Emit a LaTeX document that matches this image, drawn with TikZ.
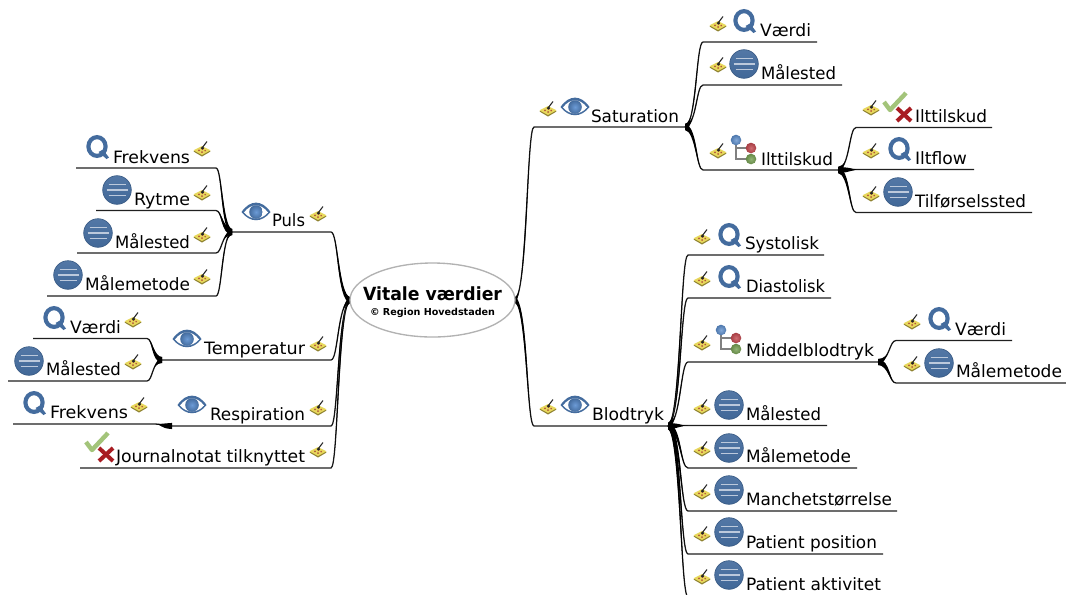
\documentclass[tikz,border=0pt]{standalone}
\usepackage{fontspec}
\usepackage{graphicx}
\setmainfont{DejaVu Sans}
\usetikzlibrary{calc,shapes.geometric}
\definecolor{iconblue}{HTML}{446C9E}
\definecolor{iconlight}{HTML}{BCC9DC}
\definecolor{linkcol}{HTML}{202020}
\definecolor{padyellow}{HTML}{E8D85C}
\definecolor{padedge}{HTML}{8F8230}
\definecolor{padred}{HTML}{B4553A}
\definecolor{checkgreen}{HTML}{A3C47A}
\definecolor{crossred}{HTML}{A81C22}
\definecolor{irisblue}{HTML}{6C9BD6}
\definecolor{ballblue}{HTML}{5A8CCB}
\definecolor{ballred}{HTML}{C4484F}
\definecolor{ballgreen}{HTML}{76A052}
\newlength\pxu
\setlength\pxu{0.75pt}
\tikzset{
  x=0.75pt,y=-0.75pt,
  txt/.style={anchor=base west,inner sep=0pt,outer sep=0pt,font=\fontsize{12.75pt}{15pt}\selectfont,text=black},
  link/.style={draw=linkcol,line width=0.95pt,line join=round},
  taper/.style={fill=black,draw=none},
  center node/.style={ellipse,draw=black!30,line width=1pt,fill=white,minimum width=165\pxu,minimum height=74\pxu,inner sep=0pt},
  brush/.pic={
    \fill[padedge] (-8.5,1.5) -- (0,6.5) -- (8.5,1.5) -- (0,-2.5) -- cycle;
    \fill[padyellow] (-8.5,0.3) -- (0,5) -- (8.5,0.3) -- (0,-4) -- cycle;
    \fill[padred] (-3,0.3) circle (1) (0.5,-1) circle (1) (0,2) circle (1) (3.2,0.6) circle (0.9);
    \draw[black!85,line width=0.8pt] (0,-2) -- (5,-8.5);
    \fill[black!85] (-1.5,-2) -- (1.3,-3.5) -- (2,-1.5) -- (0.2,-0.5) -- cycle;
  },
  qicon/.pic={
    \draw[iconblue,line width=3.1pt] (0,-1.5) ellipse (8.6 and 9.4);
    \fill[iconblue] (1.5,4) -- (6,1.5) -- (12,9.5) -- (9.5,11) -- cycle;
  },
  listicon/.pic={
    \shade[top color=iconblue!92!white,bottom color=iconblue!96!black,draw=iconblue!85!black,line width=0.5pt] (0,0) circle (14.3);
    \draw[iconlight,line width=1.4pt] (-8.5,-5.5) -- (8.5,-5.5) (-10.5,0) -- (10.5,0) (-8.5,5.5) -- (8.5,5.5);
  },
  eyeicon/.pic={
    \fill[iconblue] (-14.5,0) .. controls (-6,-12.5) and (6,-12.5) .. (14.5,0) .. controls (6,11) and (-6,11) .. cycle;
    \fill[white] (-12,0.5) .. controls (-5,-9) and (5,-9) .. (12,0.5) .. controls (5,8.5) and (-5,8.5) .. cycle;
    \shade[inner color=irisblue,outer color=iconblue] (0,0) circle (6.8);
  },
  treeicon/.pic={
    \draw[black!50,line width=1.6pt] (-8,-10) -- (-8,9) -- (7,9) (-8,-2) -- (7,-2);
    \shade[inner color=ballblue!75!white,outer color=ballblue!85!black] (-8,-10) circle (5.3);
    \shade[inner color=ballred!80!white,outer color=ballred!85!black] (7,-2) circle (5.3);
    \shade[inner color=ballgreen!80!white,outer color=ballgreen!85!black] (7,9) circle (5.3);
  },
  checkx/.pic={
    \draw[checkgreen,line width=3.3pt,line join=round] (-12,-2) -- (-6,6) -- (10,-11);
    \draw[crossred,line width=3pt] (1,4) -- (15,17) (15,4) -- (1,17);
  }
}
% label: id, left x, right x, baseline y, text
\newcommand\lbl[5]{\node[txt] (#1) at (#2,#4) {\resizebox{\dimexpr#3\pxu-#2\pxu\relax}{\height}{#5}};}
% connector: fork coordinate, id, corner x, end x, y
\newcommand\twig[5]{%
  \coordinate (#2-c) at (#3,#5);
  \coordinate (#2-e) at (#4,#5);
  \draw[link] let \p1=(#1),\p2=(#2-c) in (\p1) .. controls ({\x1+0.65*(\x2-\x1)},{\y1+0.04*(\y2-\y1)}) and ({\x1+0.62*(\x2-\x1)},{\y2}) .. (\p2) -- (#2-e);
  \fill[taper] let \p1=(#1),\p2=(#2-c) in
    (\x1,\y1+2.3pt) .. controls ({\x1+0.65*(\x2-\x1)+1.1pt},{\y1+0.04*(\y2-\y1)+1.8pt}) and ({\x1+0.62*(\x2-\x1)},{\y2}) .. (\p2)
    .. controls ({\x1+0.62*(\x2-\x1)},{\y2}) and ({\x1+0.65*(\x2-\x1)-1.1pt},{\y1+0.04*(\y2-\y1)-1.8pt}) .. (\x1,\y1-2.3pt) -- cycle;
}
\begin{document}
\begin{tikzpicture}
\useasboundingbox (0,0) rectangle (1066,594);
\clip (0,0) rectangle (1066,594);
\fill[white] (0,0) rectangle (1066,594);

\coordinate (root) at (432.5,300);
\coordinate (rootw) at (350,300);
\coordinate (roote) at (515,300);

% first level connectors, left
\twig{rootw}{puls}{331}{232}{232}
\twig{rootw}{temp}{331}{162}{360}
\twig{rootw}{resp}{331}{172}{426}
\twig{rootw}{jour}{331}{80}{468}
% first level connectors, right
\twig{roote}{satu}{534}{685}{127}
\twig{roote}{blod}{534}{668}{426}

% Puls
\twig{puls-e}{fre1}{216}{76}{168}
\twig{puls-e}{ryt}{216}{96}{210.5}
\twig{puls-e}{mal1}{216}{77}{253}
\twig{puls-e}{mam1}{216}{47}{296}
% Temperatur
\twig{temp-e}{vae1}{147}{33}{338.5}
\twig{temp-e}{mal2}{147}{8}{381}
% Respiration
\twig{resp-e}{fre2}{155}{13}{424}
% Saturation
\twig{satu-e}{vae2}{703}{817}{42}
\twig{satu-e}{mal3}{703}{842}{85}
\twig{satu-e}{ilt1}{703}{838}{170}
% Ilttilskud
\twig{ilt1-e}{ilt2}{856}{992}{127.5}
\twig{ilt1-e}{iltf}{860}{974}{169.5}
\twig{ilt1-e}{tilf}{856}{1032}{212.5}
% Blodtryk
\twig{blod-e}{sys}{688}{824}{255}
\twig{blod-e}{dia}{688}{831}{298}
\twig{blod-e}{mid}{688}{878}{362}
\twig{blod-e}{mal4}{688}{827}{425.5}
\twig{blod-e}{mam2}{688}{857}{468}
\twig{blod-e}{man}{688}{897}{511}
\twig{blod-e}{pos}{688}{883}{554}
\twig{blod-e}{akt}{688}{883}{597}
% Middelblodtryk
\twig{mid-e}{vae3}{896}{1012}{340.5}
\twig{mid-e}{mam3}{896}{1066}{383}

% centre
\node[center node] (centre) at (root) {};
\lbl{title}{363}{502}{300.5}{\fontsize{13.6pt}{15pt}\selectfont\bfseries Vitale værdier}
\lbl{subtitle}{370}{495}{315}{\fontsize{7.2pt}{9pt}\selectfont\bfseries © Region Hovedstaden}

% labels, left
\lbl{tpuls}{272}{305}{226.5}{Puls}
\lbl{tfre1}{113}{190}{163}{Frekvens}
\lbl{tryt}{134}{190}{205.5}{Rytme}
\lbl{tmal1}{115}{190}{248}{Målested}
\lbl{tmam1}{85}{190}{290.5}{Målemetode}
\lbl{ttemp}{204}{305}{354.5}{Temperatur}
\lbl{tvae1}{70}{121}{333}{Værdi}
\lbl{tmal2}{46}{121}{375.5}{Målested}
\lbl{tresp}{210}{305}{420}{Respiration}
\lbl{tfre2}{50}{128}{418}{Frekvens}
\lbl{tjour}{116}{305}{462.5}{Journalnotat tilknyttet}
% labels, right
\lbl{tsatu}{591}{679}{122}{Saturation}
\lbl{tblod}{592}{664}{420.5}{Blodtryk}
\lbl{tvae2}{760}{811}{36.5}{Værdi}
\lbl{tmal3}{761}{836}{79}{Målested}
\lbl{tilt1}{761}{833}{165}{Ilttilskud}
\lbl{tilt2}{915}{987}{122}{Ilttilskud}
\lbl{tiltf}{915}{967}{164.5}{Iltflow}
\lbl{ttilf}{915}{1026}{207}{Tilførselssted}
\lbl{tsys}{745}{819}{249.5}{Systolisk}
\lbl{tdia}{746}{825}{292.5}{Diastolisk}
\lbl{tmid}{746}{874}{356}{Middelblodtryk}
\lbl{tvae3}{955}{1006}{335}{Værdi}
\lbl{tmam3}{956}{1062}{377}{Målemetode}
\lbl{tmal4}{746}{821}{420}{Målested}
\lbl{tmam2}{746}{851}{462.5}{Målemetode}
\lbl{tman}{746}{892}{505}{Manchetstørrelse}
\lbl{tpos}{746}{877}{548}{Patient position}
\lbl{takt}{746}{881}{590.5}{Patient aktivitet}

% eye icons
\foreach \p in {(256,212),(187,339),(192,405),(575,107),(575,405)}
  \pic at \p {eyeicon};
% Q icons
\foreach \p in {(97,148),(54,319),(34,404),(744,22),(899,150),(729,236),(729,278),(939,320)}
  \pic at \p {qicon};
% list icons
\foreach \p in {(117,190),(98,233),(68,275),(29,361),(744,64),(898,192),(729,405),(729,448),(729,490),(729,532),(729,575),(939,363)}
  \pic at \p {listicon};
% tree icons
\foreach \p in {(744,150),(729,340)}
  \pic at \p {treeicon};
% check and cross
\foreach \p in {(98,444),(896,104)}
  \pic at \p {checkx};
% brushes
\foreach \p in {(202,150),(202,194),(202,236),(202,278),(318,215),(133,321),(133,363),(318,345),(139,406),(318,409),(318,451),
  (548,110),(548,408),(718,25),(718,66),(718,152),(871,109),(871,152),(871,195),
  (702,238),(702,280),(702,344),(912,323),(912,365),(702,408),(702,450),(702,493),(702,535),(702,578)}
  \pic at \p {brush};
\end{tikzpicture}
\end{document}
